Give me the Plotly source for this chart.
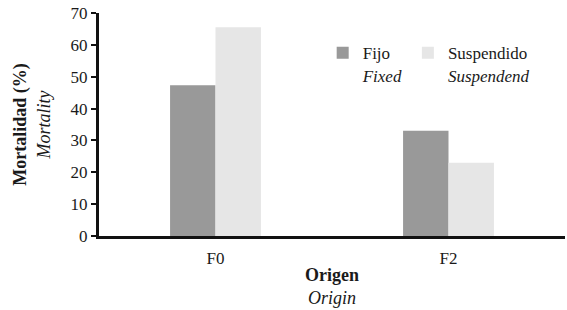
import plotly.graph_objects as go

categories = ["F0", "F2"]
fixed_vals = [47.3, 33.0]
suspended_vals = [65.5, 23.0]
series_names = ["Fijo<br><i>Fixed</i>", "Suspendido<br><i>Suspendend</i>"]
y_ticks = [0, 10, 20, 30, 40, 50, 60, 70]

FONT = "Liberation Serif"

fig = go.Figure()
fig.add_trace(go.Bar(x=categories, y=fixed_vals, name=series_names[0],
                     marker=dict(color="#999999", line=dict(width=0))))
fig.add_trace(go.Bar(x=categories, y=suspended_vals, name=series_names[1],
                     marker=dict(color="#e6e6e6", line=dict(width=0))))

fig.update_layout(
    template="none",
    width=567, height=310,
    margin=dict(l=99, r=2, t=13, b=74, autoexpand=False),
    paper_bgcolor="white", plot_bgcolor="white",
    font=dict(family=FONT, size=17, color="#1a1a1a"),
    barmode="group", bargap=0.61, bargroupgap=0,
    showlegend=True,
    legend=dict(orientation="h", x=0.48, y=0.9, xanchor="left", yanchor="top",
                valign="top", font=dict(family=FONT, size=17, color="#1a1a1a"),
                bgcolor="rgba(0,0,0,0)", traceorder="normal"),
    xaxis=dict(
        showline=True, linecolor="#111", linewidth=3, ticks="",
        showgrid=False, zeroline=False, automargin=False,
        ticklabelstandoff=5,
        tickfont=dict(family=FONT, size=17, color="#1a1a1a"),
        title=dict(text="<b>Origen</b><br><i>Origin</i>", standoff=1,
                   font=dict(family=FONT, size=18, color="#1a1a1a")),
    ),
    yaxis=dict(
        range=[0, 70], tickvals=y_ticks, showline=True, linecolor="#111",
        linewidth=3, ticks="outside", ticklen=5, tickwidth=2, tickcolor="#111",
        showgrid=False, zeroline=False, automargin=False,
        tickfont=dict(family=FONT, size=17, color="#1a1a1a"),
        title=dict(text="<b>Mortalidad (%)</b><br><i>Mortality</i>", standoff=16,
                   font=dict(family=FONT, size=18, color="#1a1a1a")),
    ),
)

fig.write_html("out.html", config={"displayModeBar": False},
               post_script="document.body.style.margin='0px';")
